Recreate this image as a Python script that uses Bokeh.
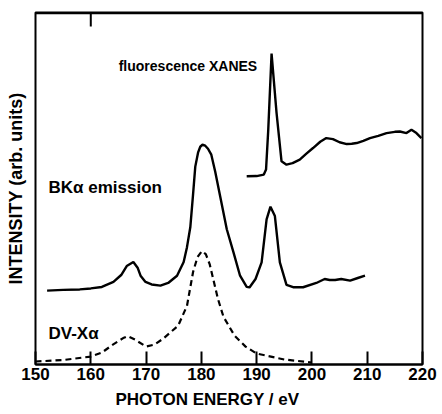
from bokeh.plotting import figure
from bokeh.models import Range1d, Label, LinearAxis, FixedTicker, Title, Span
from bokeh.embed import file_html
from bokeh.resources import INLINE

# ---- data (photon energy in eV, intensity in arbitrary units) ----
dv_energy = [150, 155, 160, 162, 164, 166, 166.7, 168, 170, 171.5, 173.1, 175.8,
             177.4, 178.5, 179.3, 180.1, 180.8, 181.5, 183, 184, 186, 188, 190,
             195, 200]
dv_intensity = [3, 4.5, 8, 12, 20, 27, 28.5, 25, 18, 20, 26, 39,
                59, 93, 108, 114, 111, 101, 66, 48, 29, 18, 11,
                5, 2]

em_energy = [152.1, 155, 158, 160, 162, 164.1, 165.5, 166.5, 167.7, 168.5, 169,
             169.9, 171, 172.6, 174, 175.6, 176.8, 177.4, 178.0, 178.5, 178.9,
             179.4, 179.8, 180.2, 180.7, 181.2, 181.8, 182.5, 183.4, 184.6,
             185.8, 187, 188.2, 188.7, 189.8, 190.9, 191.8, 192.5, 193.3, 194.2,
             195.4, 196.6, 198.4, 200.8, 202.3, 203.2, 204.2, 205.3, 206.9,
             208.3, 209.6]
em_intensity = [74.3, 75, 75.5, 76.5, 78, 83, 90, 99, 103, 97, 89.3,
                83, 80.5, 79.3, 82, 89.3, 103, 118, 138, 171, 199,
                213, 219, 221, 220, 217, 211, 194, 169.3, 136,
                113, 89.3, 78, 77.5, 86, 102.7, 146, 158.7, 149.3, 102.7,
                80, 77.7, 77.7, 82, 86, 85, 85, 86, 84.3,
                87, 89.3]

xa_energy = [188.2, 190, 191.3, 191.7, 192.1, 192.7, 193.6, 194.5, 195.4, 196.5,
             197.8, 199, 200.2, 201.5, 202.6, 203.8, 205, 206.3, 207.2, 208.1,
             209.3, 210.5, 212, 213.5, 215, 215.9, 217.1, 218, 218.9, 219.8]
xa_intensity = [189.3, 189.5, 191, 196, 236, 312.7, 253, 204.3, 201, 202.5,
                206, 212, 217.7, 224, 227.7, 226.7, 223.5, 221.7, 222, 222.7,
                225, 227.7, 230, 232.7, 234, 234.3, 232.7, 236, 232.7, 227.7]

x_ticks = [150, 160, 170, 180, 190, 200, 210, 220]
top_ticks = [160]

FONT = "Liberation Sans"

p = figure(width=442, height=414, output_backend="svg", toolbar_location=None,
           title=None,
           x_range=Range1d(150, 220), y_range=Range1d(0, 354),
           min_border_left=35, min_border_right=20, min_border_top=12,
           min_border_bottom=48, x_axis_location=None, y_axis_location=None)

p.grid.visible = False
p.outline_line_color = "black"
p.outline_line_width = 2
p.background_fill_color = "white"
p.border_fill_color = "white"

xaxis = LinearAxis(ticker=FixedTicker(ticks=x_ticks))
xaxis.axis_line_width = 2
xaxis.axis_line_color = "black"
xaxis.major_tick_in = 13
xaxis.major_tick_out = 0
xaxis.major_tick_line_width = 2
xaxis.minor_tick_line_color = None
xaxis.major_label_text_font = FONT
xaxis.major_label_text_font_style = "bold"
xaxis.major_label_text_font_size = "17px"
xaxis.major_label_text_color = "black"
xaxis.major_label_standoff = 3
p.add_layout(xaxis, "below")

yaxis = LinearAxis(ticker=FixedTicker(ticks=[]))
yaxis.axis_line_color = None
yaxis.major_tick_out = 0
yaxis.major_tick_in = 0
yaxis.minor_tick_line_color = None
yaxis.major_label_standoff = 0
yaxis.axis_label = "INTENSITY (arb. units)"
yaxis.axis_label_standoff = 10
yaxis.axis_label_text_font = FONT
yaxis.axis_label_text_font_style = "bold"
yaxis.axis_label_text_font_size = "18px"
yaxis.axis_label_text_color = "black"
p.add_layout(yaxis, "left")

xtitle = Title(text="PHOTON ENERGY / eV", align="left", offset=80,
               text_font=FONT, text_font_style="bold", text_font_size="17px",
               text_color="black", standoff=11)
p.add_layout(xtitle, "below")

# top edge of the frame, drawn just inside it
p.add_layout(Span(location=353.2, dimension="width", line_color="black", line_width=2))

# small tick on the top edge at 160 eV
p.segment(x0=top_ticks, y0=[354] * len(top_ticks), x1=top_ticks,
          y1=[340] * len(top_ticks), line_color="black", line_width=2)

p.line(dv_energy, dv_intensity, line_color="black", line_width=2.2, line_dash="6 4")
p.line(em_energy, em_intensity, line_color="black", line_width=2.4)
p.line(xa_energy, xa_intensity, line_color="black", line_width=2.4)

def add_label(text, x, y, size, align="left"):
    p.add_layout(Label(x=x, y=y, text=text, text_font=FONT, text_font_style="bold",
                       text_font_size=size, text_align=align, text_baseline="alphabetic",
                       text_color="black"))

add_label("fluorescence XANES", 190.1, 300, "14px", align="right")
add_label("BKα emission", 152.35, 178, "17px")
add_label("DV-Xα", 152.35, 31, "17px")

open("out.html", "w").write(file_html(p, INLINE))
